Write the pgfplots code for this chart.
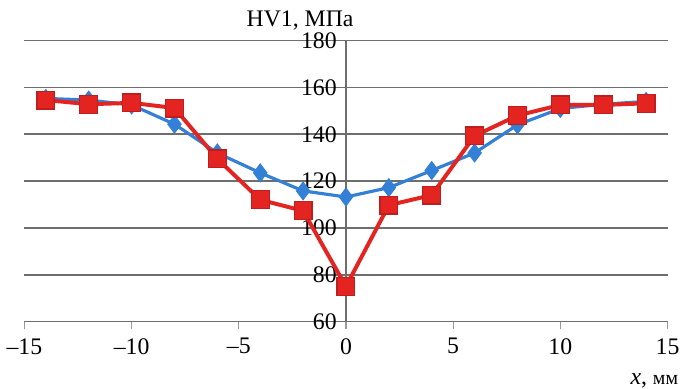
\documentclass[border=0pt]{standalone}
\usepackage{fontspec}
\setmainfont{Liberation Serif}
\newfontfamily\tnr{Liberation Serif}
\usepackage{pgfplots}
\pgfplotsset{compat=1.18}
\definecolor{myred}{RGB}{228,36,32}
\definecolor{myredd}{RGB}{190,30,30}
\definecolor{myblue}{RGB}{52,128,214}
\definecolor{gridc}{RGB}{110,110,110}
\begin{document}
\begin{tikzpicture}
\begin{axis}[
  scale only axis,
  width=325pt, height=142pt,
  xmin=-15, xmax=15, ymin=60, ymax=180,
  axis x line=bottom, axis y line=left,
  x axis line style={-, draw=gridc, line width=0.8pt},
  y axis line style={draw=none},
  xtick={-15,-10,-5,0,5,10,15},
  xticklabels={–15,–10,–5,0,5,10,15},
  ytick={60,80,100,120,140,160,180},
  xtick align=outside,
  major tick length=4pt,
  xtick style={draw=gridc!70, line width=0.6pt},
  ytick style={draw=none},
  ymajorgrids,
  grid style={draw=gridc, line width=0.9pt},
  /pgf/number format/assume math mode=true,
  tick label style={font=\tnr\fontsize{12}{12}\selectfont},
  xticklabel style={yshift=-1pt},
  yticklabel style={inner sep=0pt, anchor=east, xshift=160pt},
  clip=false,
]
\draw[gridc, line width=0.7pt] (axis cs:0,60) -- (axis cs:0,180);
\addplot[myblue, line width=1.6pt, mark=diamond*, mark size=3.6pt, mark options={fill=myblue, draw=myblue}] coordinates {
(-14,155.3) (-12,154.6) (-10,152.5) (-8,144.3) (-6,132) (-4,123.5) (-2,115.8) (0,113.2) (2,117.2) (4,124.5) (6,132) (8,144) (10,151) (12,152.8) (14,154)
};
\addplot[myred, line width=2pt, mark=square*, mark size=4.5pt, mark options={fill=myred, draw=myredd, line width=0.6pt}] coordinates {
(-14,154.6) (-12,152.8) (-10,153.4) (-8,151.2) (-6,129.5) (-4,112) (-2,107.3) (0,75) (2,109.7) (4,114) (6,139.3) (8,148) (10,152.5) (12,152.5) (14,153.2)
};
\node[anchor=base east, font=\tnr\fontsize{12}{12}\selectfont, inner sep=0pt] at ([shift={(4pt,7pt)}]axis cs:0,180) {HV1, МПа};
\node[anchor=base east, font=\tnr\fontsize{12}{12}\selectfont, inner sep=0pt] at ([shift={(5.5pt,-32pt)}]rel axis cs:1,0) {\textit{x}, \fontsize{10}{10}\selectfont мм};
\path ([shift={(-11pt,-33pt)}]rel axis cs:0,0) rectangle ([shift={(7pt,20.5pt)}]rel axis cs:1,1);
\end{axis}
\end{tikzpicture}
\end{document}
